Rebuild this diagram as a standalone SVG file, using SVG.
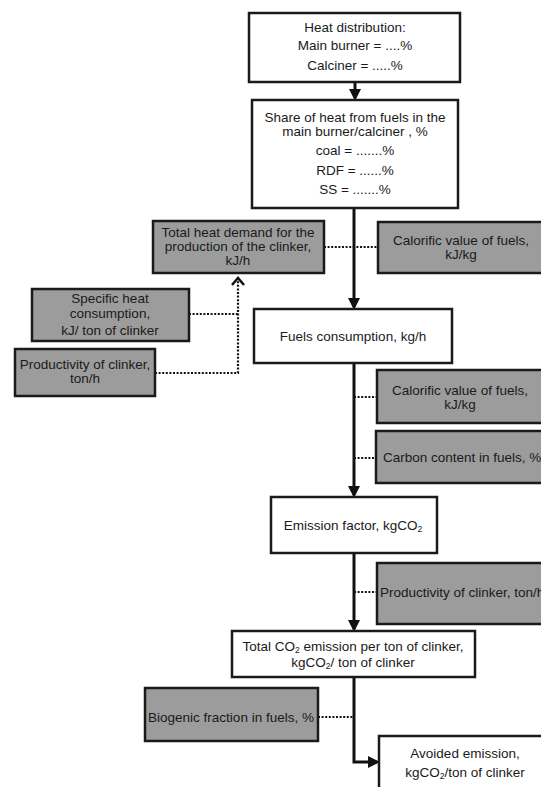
<svg xmlns="http://www.w3.org/2000/svg" width="541" height="787" viewBox="0 0 541 787">
<defs>
<marker id="ah" markerWidth="4" markerHeight="4" refX="3" refY="2" orient="auto" markerUnits="strokeWidth">
<path d="M0,0 L4,2 L0,4 Z" fill="#111"/>
</marker>
<style>
.w{fill:#fff;stroke:#1a1a1a;stroke-width:2.5}
.g{fill:#9c9c9c;stroke:#1a1a1a;stroke-width:2.5}
text{font-family:"Liberation Sans",Arial,sans-serif;font-size:13.5px;fill:#1a1a1a;text-anchor:middle}
.s{text-anchor:start}
.main{fill:none;stroke:#111;stroke-width:3;marker-end:url(#ah)}
.dot{fill:none;stroke:#111;stroke-width:2.2;stroke-dasharray:2 1.6}
.sub{font-size:8.5px}
</style>
</defs>
<rect width="541" height="787" fill="#fff"/>
<g id="connectors">
<path class="main" d="M355,82 V98"/>
<path class="main" d="M354,208 V307"/>
<path class="main" d="M354,363 V495"/>
<path class="main" d="M354,553 V629"/>
<path class="main" d="M354,677 V762 H377"/>
<path class="dot" d="M324,247 H378"/>
<path class="dot" d="M354,397 H377"/>
<path class="dot" d="M354,458 H376"/>
<path class="dot" d="M354,592 H377"/>
<path class="dot" d="M318,717 H354"/>
<path class="dot" d="M189,314 H238"/>
<path class="dot" d="M155,373 H238 V279"/>
<path d="M232,285 L238,278 L244,285" fill="none" stroke="#111" stroke-width="2.5"/>
</g>
<g id="heat-distribution">
<rect class="w" x="249" y="13" width="211" height="69"/>
<text x="355" y="32">Heat distribution:</text>
<text x="355" y="50">Main burner = ....%</text>
<text x="355" y="70">Calciner = .....%</text>
</g>
<g id="share-of-heat">
<rect class="w" x="252" y="100" width="206" height="108"/>
<text x="355" y="122">Share of heat from fuels in the</text>
<text x="355" y="136">main burner/calciner , %</text>
<text x="355" y="155">coal = .......%</text>
<text x="355" y="175">RDF = ......%</text>
<text x="355" y="194">SS = .......%</text>
</g>
<g id="total-heat-demand">
<rect class="g" x="153" y="221" width="171" height="52"/>
<text x="238" y="237">Total heat demand for the</text>
<text x="238" y="251">production of the clinker,</text>
<text x="238" y="265">kJ/h</text>
</g>
<g id="calorific-value-1">
<rect class="g" x="378" y="222" width="175" height="51"/>
<text x="461" y="245">Calorific value of fuels,</text>
<text x="461" y="259">kJ/kg</text>
</g>
<g id="specific-heat">
<rect class="g" x="32" y="289" width="157" height="52"/>
<text x="110" y="303">Specific heat</text>
<text x="110" y="318">consumption,</text>
<text x="110" y="335">kJ/ ton of clinker</text>
</g>
<g id="productivity-1">
<rect class="g" x="15" y="349" width="140" height="47"/>
<text x="85" y="369">Productivity of clinker,</text>
<text x="85" y="383">ton/h</text>
</g>
<g id="fuels-consumption">
<rect class="w" x="254" y="309" width="198" height="54"/>
<text x="353" y="341">Fuels consumption, kg/h</text>
</g>
<g id="calorific-value-2">
<rect class="g" x="377" y="370" width="176" height="53"/>
<text x="460" y="395">Calorific value of fuels,</text>
<text x="460" y="409">kJ/kg</text>
</g>
<g id="carbon-content">
<rect class="g" x="376" y="431" width="177" height="52"/>
<text class="s" x="383" y="462">Carbon content in fuels, %</text>
</g>
<g id="emission-factor">
<rect class="w" x="271" y="497" width="166" height="56"/>
<text x="353" y="530">Emission factor, kgCO<tspan class="sub" dy="2">2</tspan></text>
</g>
<g id="productivity-2">
<rect class="g" x="377" y="563" width="176" height="61"/>
<text class="s" x="380" y="597">Productivity of clinker, ton/h</text>
</g>
<g id="total-co2">
<rect class="w" x="232" y="631" width="243" height="46"/>
<text x="353" y="651">Total CO<tspan class="sub" dy="2">2</tspan><tspan dy="-2"> emission per ton of clinker,</tspan></text>
<text x="353" y="667">kgCO<tspan class="sub" dy="2">2</tspan><tspan dy="-2">/ ton of clinker</tspan></text>
</g>
<g id="biogenic-fraction">
<rect class="g" x="145" y="688" width="173" height="53"/>
<text x="231" y="722">Biogenic fraction in fuels, %</text>
</g>
<g id="avoided-emission">
<rect class="w" x="379" y="736" width="175" height="60"/>
<text x="465" y="758">Avoided emission,</text>
<text x="465" y="777">kgCO<tspan class="sub" dy="2">2</tspan><tspan dy="-2">/ton of clinker</tspan></text>
</g>
</svg>
